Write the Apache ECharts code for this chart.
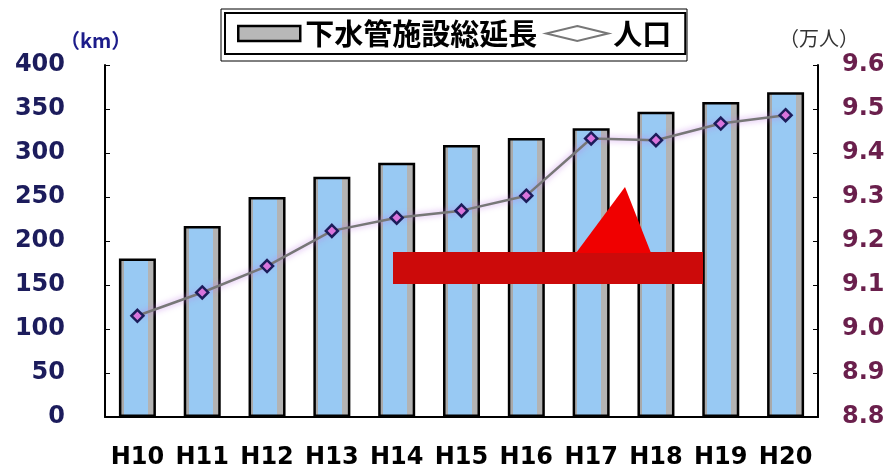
<!DOCTYPE html>
<html>
<head>
<meta charset="utf-8">
<script src="https://cdn.jsdelivr.net/npm/echarts@6/dist/echarts.min.js"></script>
<style>
html,body{margin:0;padding:0;background:#fff;}
#chart{width:889px;height:472px;}
</style>
</head>
<body>
<div id="chart"></div>
<script>
const categories = ['H10','H11','H12','H13','H14','H15','H16','H17','H18','H19','H20'];
const sewerLength = [180, 217, 250, 273, 289, 309, 317, 328, 347, 358, 369];
const population = [9.03, 9.083, 9.143, 9.223, 9.253, 9.269, 9.303, 9.433, 9.429, 9.467, 9.486];
const leftTicks = [0, 50, 100, 150, 200, 250, 300, 350, 400];
const rightTicks = ['8.8','8.9','9.0','9.1','9.2','9.3','9.4','9.5','9.6'];
const seriesNames = ['下水管施設総延長', '人口'];
const unitLeft = '（km）';
const unitRight = '（万人）';

const chart = echarts.init(document.getElementById('chart'), null, {renderer: 'canvas'});
const numFont = 'DejaVu Sans';
const cjkFont = 'Noto Sans CJK JP';

const barFill = new echarts.graphic.LinearGradient(0, 0, 1, 0, [
  {offset: 0, color: '#a9a9a9'}, {offset: 0.13, color: '#a9a9a9'},
  {offset: 0.13, color: '#98c9f3'}, {offset: 0.78, color: '#98c9f3'},
  {offset: 0.78, color: '#b3b3b3'}, {offset: 1, color: '#b3b3b3'}
]);

chart.setOption({
  animation: false,
  backgroundColor: '#ffffff',
  grid: {left: 105, right: 71, top: 65, bottom: 55},
  legend: {
    left: 225, top: 13,
    padding: [6, 14, 6, 12],
    borderColor: '#000', borderWidth: 2,
    itemWidth: 62, itemHeight: 15, itemGap: 8,
    textStyle: {fontSize: 29, fontWeight: 'bold', fontFamily: cjkFont, color: '#000'},
    data: [
      {name: seriesNames[0], icon: 'rect', itemStyle: {color: '#b8b8b8', borderColor: '#000', borderWidth: 2.5}},
      {name: seriesNames[1], icon: 'diamond', itemStyle: {color: '#ffffff', borderColor: '#777', borderWidth: 2}, lineStyle: {color: '#777', width: 2}}
    ]
  },
  xAxis: {
    type: 'category',
    data: categories,
    axisLine: {lineStyle: {color: '#000', width: 2}},
    axisTick: {show: false},
    axisLabel: {interval: 0, margin: 29, fontSize: 24, fontWeight: 'bold', fontFamily: numFont, color: '#000'}
  },
  yAxis: [
    {
      type: 'value', min: 0, max: 400, interval: 50,
      axisLine: {show: true, lineStyle: {color: '#000', width: 2}},
      axisTick: {show: true, inside: true, length: 5, lineStyle: {color: '#000'}},
      splitLine: {show: false},
      axisLabel: {margin: 40, fontSize: 24, fontWeight: 'bold', fontFamily: numFont, color: '#1c1c5c',
        formatter: v => String(leftTicks[Math.round(v / 50)])}
    },
    {
      type: 'value', min: 8.8, max: 9.6, interval: 0.1,
      axisLine: {show: true, lineStyle: {color: '#000', width: 2}},
      axisTick: {show: true, inside: true, length: 5, lineStyle: {color: '#000'}},
      splitLine: {show: false},
      axisLabel: {margin: 24, fontSize: 24, fontWeight: 'bold', fontFamily: numFont, color: '#6a1f4c',
        formatter: v => rightTicks[Math.round((v - 8.8) * 10)]}
    }
  ],
  series: [
    {
      name: seriesNames[0], type: 'bar', yAxisIndex: 0,
      data: sewerLength, barWidth: 37,
      itemStyle: {color: barFill, borderColor: '#000', borderWidth: 2.5}
    },
    {
      name: seriesNames[1], type: 'line', yAxisIndex: 1,
      data: population,
      symbol: 'diamond', symbolSize: 12,
      lineStyle: {color: '#777', width: 2.5, shadowColor: 'rgba(190,120,230,0.8)', shadowBlur: 6},
      itemStyle: {color: '#d874dc', borderColor: '#1c1c5a', borderWidth: 2.5}
    }
  ],
  graphic: [
    {type: 'text', left: 60, top: 30, style: {text: unitLeft, font: 'bold 20px "Noto Sans CJK JP"', fill: '#1c1c8a'}},
    {type: 'text', left: 779, top: 28, style: {text: unitRight, font: '20px "Noto Sans CJK JP"', fill: '#333'}},
    {type: 'rect', shape: {x: 221, y: 9, width: 466, height: 52}, style: {fill: 'none', stroke: '#000', lineWidth: 1}, z: 10},
    {type: 'rect', shape: {x: 393, y: 252, width: 310, height: 32}, style: {fill: '#cc0a0a'}, z: 20},
    {type: 'polygon', shape: {points: [[576, 253], [625, 187], [651, 253]]}, style: {fill: '#f00000'}, z: 21}
  ]
});
</script>
</body>
</html>
